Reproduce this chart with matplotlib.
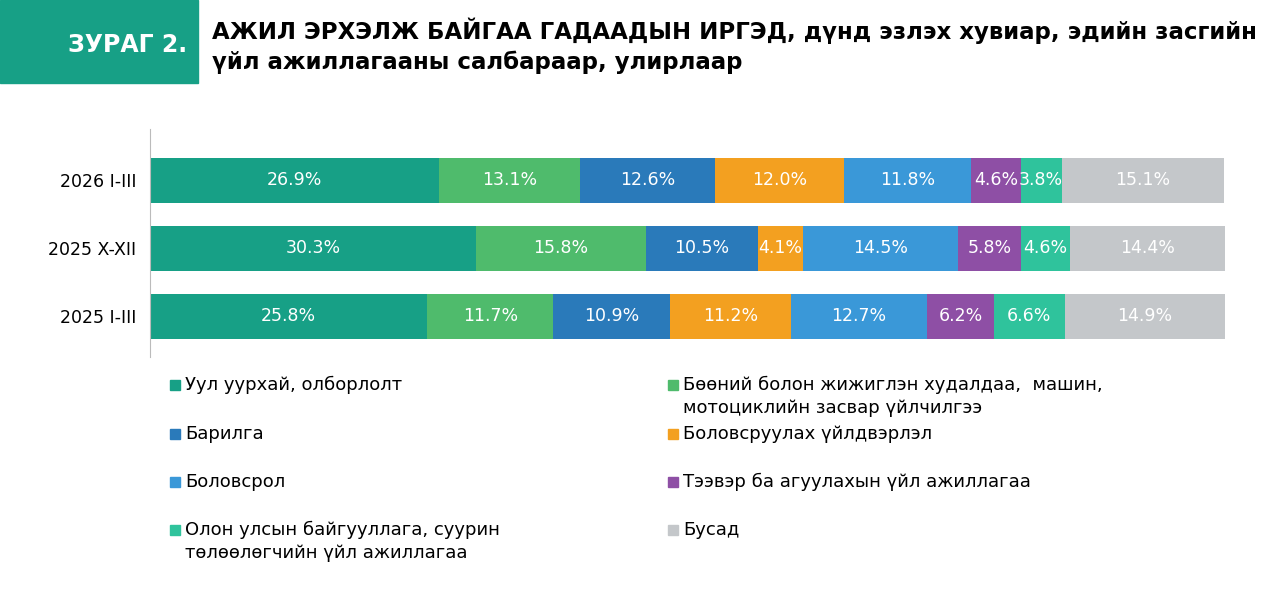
import matplotlib.pyplot as plt
from matplotlib.patches import Rectangle

# ---------------------------------------------------------------------------
# DATA
# ---------------------------------------------------------------------------
periods = ['2025 I-III', '2025 X-XII', '2026 I-III']
sectors = [
    'Уул уурхай, олборлолт',
    'Бөөний болон жижиглэн худалдаа,  машин,\nмотоциклийн засвар үйлчилгээ',
    'Барилга',
    'Боловсруулах үйлдвэрлэл',
    'Боловсрол',
    'Тээвэр ба агуулахын үйл ажиллагаа',
    'Олон улсын байгууллага, суурин\nтөлөөлөгчийн үйл ажиллагаа',
    'Бусад',
]
values = [
    [25.8, 30.3, 26.9],
    [11.7, 15.8, 13.1],
    [10.9, 10.5, 12.6],
    [11.2, 4.1, 12.0],
    [12.7, 14.5, 11.8],
    [6.2, 5.8, 4.6],
    [6.6, 4.6, 3.8],
    [14.9, 14.4, 15.1],
]
colors = ['#17a086', '#4fbb6c', '#2a7aba', '#f3a020', '#3a98d8',
          '#8e4fa5', '#2fc39c', '#c4c7ca']

TEAL = '#17a086'

fig = plt.figure(figsize=(12.8, 6.01), dpi=100)

# header
fig.patches.append(Rectangle((0, 1 - 83 / 601), 198 / 1280, 83 / 601,
                             transform=fig.transFigure, color=TEAL, zorder=0))
fig.text(128 / 1280, 1 - 45 / 601, 'ЗУРАГ 2.', color='white', fontsize=17,
         fontweight='bold', ha='center', va='center')
fig.text(212 / 1280, 1 - 46 / 601,
         'АЖИЛ ЭРХЭЛЖ БАЙГАА ГАДААДЫН ИРГЭД, дүнд эзлэх хувиар, эдийн засгийн\n'
         'үйл ажиллагааны салбараар, улирлаар',
         fontsize=16.5, fontweight='bold', ha='left', va='center', linespacing=1.35)

ax = fig.add_axes([150 / 1280, (601 - 357) / 601, 1075 / 1280, 228 / 601])
left = [0, 0, 0]
for vals, col in zip(values, colors):
    ax.barh(periods, vals, left=left, color=col, height=0.66)
    for i, v in enumerate(vals):
        ax.text(left[i] + v / 2, i, f'{v:.1f}%', ha='center', va='center',
                color='white', fontsize=12.5)
    left = [l + v for l, v in zip(left, vals)]
ax.set_xlim(0, max(left))
ax.set_ylim(-0.6, 2.75)
ax.set_xticks([])
ax.tick_params(axis='y', length=0, labelsize=12.5, pad=10)
for s in ['top', 'right', 'bottom']:
    ax.spines[s].set_visible(False)
ax.spines['left'].set_color('#bbbbbb')

# legend
rows = [385, 434, 482, 530]
cols = [170, 668]
for k, (name, col) in enumerate(zip(sectors, colors)):
    x = cols[k % 2] / 1280
    y = 1 - rows[k // 2] / 601
    fig.patches.append(Rectangle((x, y - 5 / 601), 10 / 1280, 10 / 601,
                                 transform=fig.transFigure, color=col))
    fig.text(x + 15 / 1280, y + 9 / 601, name, fontsize=13, ha='left', va='top',
             linespacing=1.35)

fig.savefig('out.png', dpi=100)
